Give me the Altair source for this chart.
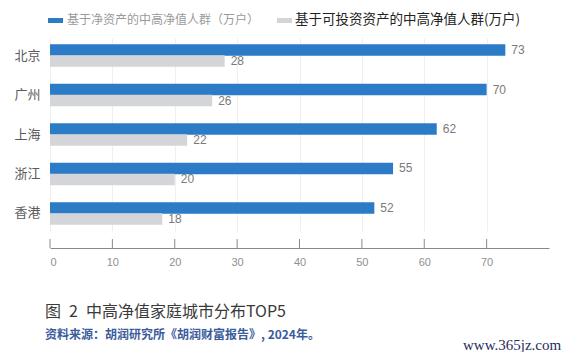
import altair as alt
import pandas as pd

cities = ["北京", "广州", "上海", "浙江", "香港"]
net_assets = [73, 70, 62, 55, 52]
investable = [28, 26, 22, 20, 18]
series = ["基于净资产的中高净值人群（万户）", "基于可投资资产的中高净值人群(万户)"]
colors = ["#2b7bc6", "#d3d5d9"]
tick_values = [0, 10, 20, 30, 40, 50, 60, 70]
caption = "图\u20022\u2002中高净值家庭城市分布TOP5"
source = "资料来源：胡润研究所《胡润财富报告》, 2024年。"
watermark = "www.365jz.com"

rows = []
for c, a, b in zip(cities, net_assets, investable):
    rows.append({"city": c, "series": series[0], "value": a})
    rows.append({"city": c, "series": series[1], "value": b})
df = pd.DataFrame(rows)

CJK = "Noto Sans CJK SC"
W, H = 499, 193

xs = alt.Scale(domain=[0, 80], nice=False)
ys = alt.Scale(domain=cities, paddingInner=0.443, paddingOuter=0.165)
yo = alt.Scale(domain=series, paddingInner=0, paddingOuter=0)
xaxis = alt.Axis(values=tick_values, offset=17, grid=True, gridColor="#efefef",
                 ticks=False, domainColor="#8a8a8a", labelColor="#8f8f8f",
                 labelFont="Liberation Sans", labelFontSize=11, labelPadding=8)

base = alt.Chart(df)
bars = base.mark_bar(size=11.5).encode(
    x=alt.X("value:Q", scale=xs, title=None, axis=xaxis),
    y=alt.Y("city:N", scale=ys, title=None,
            axis=alt.Axis(domain=False, ticks=False, labelColor="#5a5a5a", labelFont=CJK,
                          labelFontSize=13, labelPadding=10)),
    yOffset=alt.YOffset("series:N", scale=yo),
    color=alt.Color("series:N", scale=alt.Scale(domain=series, range=colors), legend=None),
)
labels = base.mark_text(align="left", baseline="middle", dx=6, color="#7a7a7a",
                        font="Liberation Sans", fontSize=12).encode(
    x=alt.X("value:Q", scale=xs, title=None, axis=xaxis),
    y=alt.Y("city:N", scale=ys, title=None),
    yOffset=alt.YOffset("series:N", scale=yo),
    text="value:Q",
)
ticks = alt.Chart(pd.DataFrame({"value": tick_values})).mark_rule(color="#8a8a8a").encode(
    x=alt.X("value:Q", scale=xs, title=None, axis=xaxis),
    y=alt.value(H + 17 - 9),
    y2=alt.value(H + 17),
)

def txt(s, x, y, size, color, weight="normal", font=CJK):
    return alt.Chart(pd.DataFrame({"t": [s]})).mark_text(
        align="left", baseline="middle", fontSize=size, color=color,
        fontWeight=weight, font=font).encode(
        x=alt.value(x), y=alt.value(y), text="t:N")

def box(x, x2, y, y2, color):
    return alt.Chart(pd.DataFrame({"a": [0]})).mark_rect(color=color).encode(
        x=alt.value(x), x2=alt.value(x2), y=alt.value(y), y2=alt.value(y2))

leg = [
    box(-2, 13, -20, -15, colors[0]),
    txt(series[0], 17, -18, 12, "#9a9a9a"),
    box(227, 242, -20, -15, colors[1]),
    txt(series[1], 245, -18, 13.5, "#222222"),
]
caps = [
    txt(caption, -5, 274, 16, "#3a3a3a"),
    txt(source, -5, 297, 12, "#3b5c9c", weight="bold"),
    txt(watermark, 413, 307, 15, "#1f2d5a", font="Liberation Serif"),
]

chart = alt.layer(bars, labels, ticks, *leg, *caps).properties(
    width=W, height=H,
    autosize=alt.AutoSizeParams(type="none"),
    padding={"left": 42, "top": 30, "right": 28, "bottom": 121},
).configure_view(stroke=None)

chart.save("out.html", embed_options={"renderer": "svg", "actions": False})
